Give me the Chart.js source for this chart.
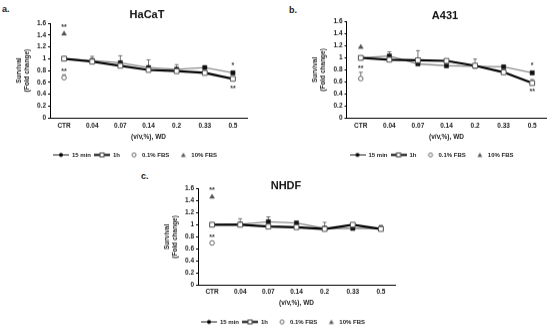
<!DOCTYPE html>
<html><head><meta charset="utf-8">
<script src="https://cdn.jsdelivr.net/npm/chart.js"></script>
<style>
html,body{margin:0;padding:0;background:#fff;overflow:hidden;width:550px;height:326px;position:relative}
canvas{position:absolute}
.lbl{position:absolute;font:bold 9px 'Liberation Sans',Arial,sans-serif;color:#222}
</style></head><body>
<div class="lbl" style="left:2px;top:4px">a.</div>
<div class="lbl" style="left:289px;top:5px">b.</div>
<div class="lbl" style="left:141px;top:171px">c.</div>
<canvas id="ca"></canvas>
<canvas id="cb"></canvas>
<canvas id="cc"></canvas>
<script>
// ---- data ----
const categories = ['CTR','0.04','0.07','0.14','0.2','0.33','0.5'];
const yTickLabels = ['0','0.2','0.4','0.6','0.8','1','1.2','1.4','1.6'];
const seriesNames = ['15 min','1h','0.1% FBS','10% FBS'];
const xAxisTitle = '(v/v,%), WD';
const yAxisTitle = ['Survival','(Fold change)'];
const panelTitles = ['HaCaT','A431','NHDF'];

// HaCaT
const hacat15   = [1.00, 0.97, 0.93, 0.85, 0.82, 0.85, 0.76];
const hacat1h   = [1.00, 0.95, 0.88, 0.81, 0.79, 0.76, 0.66];
const hacatErr15 = [null, 1.04, 1.05, 0.98, 0.90, null, null];
const hacatErr1h = [null, null, null, null, null, null, null];
const hacatFbs01 = [0.68, null, null, null, null, null, null];
const hacatFbs01Err = [0.73, null, null, null, null, null, null];
const hacatFbs10 = [1.42, null, null, null, null, null, null];
const hacatSigCat = ['CTR','CTR','0.5','0.5'];
const hacatSigVal = [1.53, 0.79, 0.88, 0.50];
const hacatSigTxt = ['**','**','*','**'];

// A431
const a431_15   = [1.00, 1.03, 0.90, 0.87, 0.86, 0.85, 0.75];
const a431_1h   = [1.00, 0.97, 0.96, 0.95, 0.87, 0.76, 0.58];
const a431Err15 = [null, 1.10, null, null, null, null, null];
const a431Err1h = [null, null, 1.12, null, 0.98, null, 0.64];
const a431Fbs01 = [0.655, null, null, null, null, null, null];
const a431Fbs01Err = [0.76, null, null, null, null, null, null];
const a431Fbs10 = [1.18, null, null, null, null, null, null];
const a431SigCat = ['CTR','0.5','0.5'];
const a431SigVal = [0.83, 0.87, 0.43];
const a431SigTxt = ['**','*','**'];

// NHDF
const nhdf15   = [1.00, 1.01, 1.05, 1.03, 0.94, 0.94, 0.94];
const nhdf1h   = [1.00, 1.00, 0.97, 0.96, 0.93, 1.00, 0.93];
const nhdfErr15 = [null, 1.10, 1.13, null, null, null, 0.99];
const nhdfErr1h = [null, null, null, null, 1.04, 1.03, null];
const nhdfFbs01 = [0.70, null, null, null, null, null, null];
const nhdfFbs01Err = [null, null, null, null, null, null, null];
const nhdfFbs10 = [1.46, null, null, null, null, null, null];
const nhdfSigCat = ['CTR','CTR'];
const nhdfSigVal = [1.57, 0.79];
const nhdfSigTxt = ['**','**'];

// ---- rendering ----
const F = "'Liberation Sans', Arial, Helvetica, sans-serif";
const FS = 6.5;           // small text size
const LH = FS * 1.2;      // its line height

function icon(kind){
  const c = document.createElement('canvas'); c.width = 16; c.height = 7;
  const g = c.getContext('2d');
  if (kind === 0) {
    g.strokeStyle = '#222'; g.lineWidth = 1;
    g.beginPath(); g.moveTo(0,3.5); g.lineTo(16,3.5); g.stroke();
    g.fillStyle = '#000'; g.beginPath(); g.arc(8,3.5,2,0,Math.PI*2); g.fill();
  } else if (kind === 1) {
    g.strokeStyle = '#000'; g.lineWidth = 2;
    g.beginPath(); g.moveTo(0,3.5); g.lineTo(16,3.5); g.stroke();
    g.fillStyle = '#fff'; g.fillRect(6,1.5,4,4);
    g.strokeStyle = '#444'; g.lineWidth = 1; g.strokeRect(6,1.5,4,4);
  } else if (kind === 2) {
    g.fillStyle = '#fff'; g.strokeStyle = '#666'; g.lineWidth = 1;
    g.beginPath(); g.arc(11,3.5,2,0,Math.PI*2); g.fill(); g.stroke();
  } else {
    g.fillStyle = '#555';
    g.beginPath(); g.moveTo(11,1.2); g.lineTo(13.4,5.6); g.lineTo(8.6,5.6); g.closePath(); g.fill();
  }
  return c;
}
const legendIcons = [icon(0), icon(1), icon(2), icon(3)];

const marksPlugin = {
  id: 'marks',
  beforeDatasetsDraw(chart) {
    const ctx = chart.ctx, xs = chart.scales.x, ys = chart.scales.y;
    ctx.save();
    ctx.strokeStyle = '#555'; ctx.lineWidth = 0.8;
    chart.data.datasets.forEach(ds => {
      if (!ds.errTop) return;
      ds.errTop.forEach((t, j) => {
        if (t == null || ds.data[j] == null) return;
        const x = xs.getPixelForValue(j);
        const y0 = ys.getPixelForValue(ds.data[j]);
        const y1 = ys.getPixelForValue(t);
        ctx.beginPath();
        ctx.moveTo(x, y0); ctx.lineTo(x, y1);
        ctx.moveTo(x - 2, y1); ctx.lineTo(x + 2, y1);
        ctx.stroke();
      });
    });
    ctx.restore();
  },
  afterDatasetsDraw(chart, args, opts) {
    const ctx = chart.ctx, xs = chart.scales.x, ys = chart.scales.y;
    ctx.save();
    ctx.fillStyle = '#333';
    ctx.font = 'bold 7px ' + F;
    ctx.textAlign = 'center'; ctx.textBaseline = 'middle';
    (opts.cats || []).forEach((c, i) => {
      const x = xs.getPixelForValue(categories.indexOf(c));
      const y = ys.getPixelForValue(opts.vals[i]);
      ctx.fillText(opts.txts[i], x, y);
    });
    ctx.restore();
  }
};

function makePanel(id, g, title, d) {
  const cv = document.getElementById(id);
  const H = g.lc + 13 - g.Y0;
  cv.width = g.W; cv.height = H;
  cv.style.left = g.X0 + 'px'; cv.style.top = g.Y0 + 'px';
  cv.style.width = g.W + 'px'; cv.style.height = H + 'px';
  const yW = g.L - g.X0, rW = g.X0 + g.W - g.R;
  const tLH = 5.5;
  const tpt = g.tc - g.Y0 - tLH / 2, tpb = g.T - g.Y0 - tpt - tLH;
  const legTop = g.lc - 6;
  const xH = legTop - g.B;
  const tickPad = g.xl - g.B - LH / 2;
  const xtpb = legTop - g.xt - LH / 2;
  const ytpt = (g.L - 31) - g.X0 - LH / 2;
  const smallFont = {size: FS, weight: 'bold', family: F};
  const legFont = {size: 6, weight: 'bold', family: F};

  new Chart(cv, {
    type: 'line',
    data: {
      labels: categories,
      datasets: [
        {label: seriesNames[0], data: d.m15, errTop: d.e15, borderColor: '#8c8c8c', borderWidth: 1.3,
         pointStyle: 'rect', pointRadius: 3, pointBackgroundColor: '#111', pointBorderColor: '#111',
         pointBorderWidth: 0.5, tension: 0, order: 2},
        {label: seriesNames[1], data: d.h1, errTop: d.e1h, borderColor: '#000', borderWidth: 2.2,
         pointStyle: 'rect', pointRadius: 3.4, pointBackgroundColor: '#fff', pointBorderColor: '#555',
         pointBorderWidth: 1, tension: 0, order: 1},
        {label: seriesNames[2], data: d.f01, errTop: d.e01, showLine: false, pointStyle: 'circle',
         pointRadius: 2.3, pointBackgroundColor: '#fff', pointBorderColor: '#666', pointBorderWidth: 1, order: 0},
        {label: seriesNames[3], data: d.f10, showLine: false, pointStyle: 'triangle',
         pointRadius: 2.8, pointBackgroundColor: '#555', pointBorderColor: '#555', pointBorderWidth: 0.5, order: 0}
      ]
    },
    options: {
      responsive: false, animation: false, devicePixelRatio: 1,
      layout: {padding: 0},
      scales: {
        x: {
          type: 'category', offset: true,
          afterFit: s => { s.height = xH; },
          ticks: {padding: tickPad, color: '#222', font: smallFont, maxRotation: 0, autoSkip: false},
          grid: {display: false, drawTicks: false},
          border: {display: true, color: '#000', width: 1},
          title: {display: true, text: xAxisTitle, color: '#222', font: smallFont, padding: {top: 0, bottom: xtpb}}
        },
        y: {
          position: 'left', min: 0, max: 1.6,
          afterFit: s => { s.width = yW; },
          ticks: {stepSize: 0.2, padding: 2, color: '#222', font: smallFont,
                  callback: v => yTickLabels[Math.round(v / 0.2)]},
          grid: {display: true, drawOnChartArea: false, drawTicks: true, tickLength: 2, color: '#000'},
          border: {display: true, color: '#000', width: 1},
          title: {display: true, text: yAxisTitle, color: '#222', font: smallFont, padding: {top: ytpt, bottom: 0}}
        },
        yR: {
          axis: 'y', position: 'right', display: true,
          afterFit: s => { s.width = rW; },
          ticks: {display: false}, grid: {display: false}, border: {display: false}
        }
      },
      plugins: {
        title: {display: true, text: title, color: '#111', fullSize: true,
                font: {size: 11, weight: 'bold', family: F, lineHeight: 0.5},
                padding: {top: tpt, bottom: tpb}},
        legend: {
          position: 'bottom', fullSize: false, align: 'start',
          labels: {
            usePointStyle: true, pointStyleWidth: 16, padding: 3, color: '#222', font: legFont,
            generateLabels: () => seriesNames.map((n, i) => ({
              text: n, pointStyle: legendIcons[i], fillStyle: '#000', strokeStyle: '#000',
              lineWidth: 0, hidden: false, datasetIndex: i, fontColor: '#222'}))
          }
        },
        tooltip: {enabled: false},
        marks: {cats: d.sc, vals: d.sv, txts: d.st}
      }
    },
    plugins: [marksPlugin]
  });
}

makePanel('ca', {X0: 0, Y0: 0, W: 294, L: 50, R: 247, T: 23, B: 117.7, tc: 14.5, xl: 126, xt: 137, lc: 154.5},
  panelTitles[0], {m15: hacat15, h1: hacat1h, e15: hacatErr15, e1h: hacatErr1h, f01: hacatFbs01, e01: hacatFbs01Err,
  f10: hacatFbs10, sc: hacatSigCat, sv: hacatSigVal, st: hacatSigTxt});
makePanel('cb', {X0: 292, Y0: 0, W: 306, L: 346.5, R: 546.5, T: 21.7, B: 117.7, tc: 15.5, xl: 126, xt: 137, lc: 154.5},
  panelTitles[1], {m15: a431_15, h1: a431_1h, e15: a431Err15, e1h: a431Err1h, f01: a431Fbs01, e01: a431Fbs01Err,
  f10: a431Fbs10, sc: a431SigCat, sv: a431SigVal, st: a431SigTxt});
makePanel('cc', {X0: 150, Y0: 163, W: 272, L: 198, R: 395, T: 188.3, B: 285, tc: 186, xl: 292, xt: 303, lc: 321.5},
  panelTitles[2], {m15: nhdf15, h1: nhdf1h, e15: nhdfErr15, e1h: nhdfErr1h, f01: nhdfFbs01, e01: nhdfFbs01Err,
  f10: nhdfFbs10, sc: nhdfSigCat, sv: nhdfSigVal, st: nhdfSigTxt});
</script>
</body></html>
